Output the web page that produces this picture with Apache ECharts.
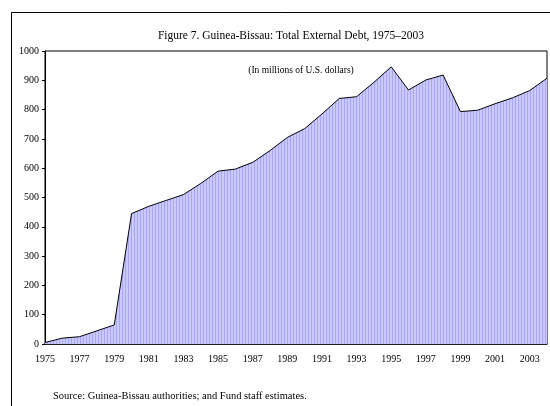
<!DOCTYPE html>
<html><head><meta charset="utf-8">
<script src="https://cdn.jsdelivr.net/npm/echarts@6/dist/echarts.min.js"></script>
<style>html,body{margin:0;padding:0;background:#fff}#c{width:550px;height:406px}</style>
</head><body><div id="c"></div>
<script>
const years = ["1975","1976","1977","1978","1979","1980","1981","1982","1983","1984","1985","1986","1987","1988","1989","1990","1991","1992","1993","1994","1995","1996","1997","1998","1999","2000","2001","2002","2003","2004"];
const debt = [5,20,25,45,65,445,470,490,510,548,590,597,620,660,705,735,785,838,844,893,946,867,901,918,793,798,820,840,865,907];
const yTicks = [0,100,200,300,400,500,600,700,800,900,1000];

const pc = document.createElement('canvas');
pc.width = 3; pc.height = 4;
const g = pc.getContext('2d');
g.fillStyle = '#cacaff'; g.fillRect(0,0,3,4);
g.fillStyle = '#a6a6f4'; g.fillRect(2,0,1,4);

const chart = echarts.init(document.getElementById('c'), null, {renderer:'canvas'});
const font = '"Liberation Serif","Times New Roman",serif';
chart.setOption({
  animation:false,
  textStyle:{fontFamily:font},
  title:[
    {text:'Figure 7. Guinea-Bissau: Total External Debt, 1975\u20132003', left:286, top:25, textAlign:'center',
     textStyle:{fontFamily:font,fontSize:11.5,fontWeight:'normal',color:'#000'}},
    {text:'(In millions of U.S. dollars)', left:296, top:60, textAlign:'center',
     textStyle:{fontFamily:font,fontSize:9.5,fontWeight:'normal',color:'#000'}},
    {text:'Source: Guinea-Bissau authorities; and Fund staff estimates.', left:48, top:386,
     textStyle:{fontFamily:font,fontSize:10.5,fontWeight:'normal',color:'#000'}}
  ],
  graphic:[
    {type:'rect', shape:{x:11.5,y:12.5,width:600,height:500}, style:{fill:'none',stroke:'#000',lineWidth:1}, z:-1}
  ],
  grid:{left:45,top:51,right:3,bottom:62,show:true,borderColor:'#000',borderWidth:1},
  xAxis:{type:'category',data:years,boundaryGap:false,
    axisLine:{lineStyle:{color:'#000',width:1.5}},
    axisTick:{inside:true,length:4,interval:1,lineStyle:{color:'#000'}},
    axisLabel:{interval:1,fontFamily:font,fontSize:10,color:'#000',margin:10},
    splitLine:{show:false}},
  yAxis:{type:'value',min:0,max:1000,interval:100,
    axisLine:{show:true,lineStyle:{color:'#000'}},
    axisTick:{show:true,length:3,lineStyle:{color:'#000'}},
    axisLabel:{fontFamily:font,fontSize:10,color:'#000',margin:6,
      formatter:v=>yTicks.includes(v)?String(v):''},
    splitLine:{show:false}},
  series:[{type:'line',data:debt,showSymbol:false,symbol:'none',
    lineStyle:{color:'#000',width:1},
    areaStyle:{color:{image:pc,repeat:'repeat'},opacity:1}}]
});
</script></body></html>
